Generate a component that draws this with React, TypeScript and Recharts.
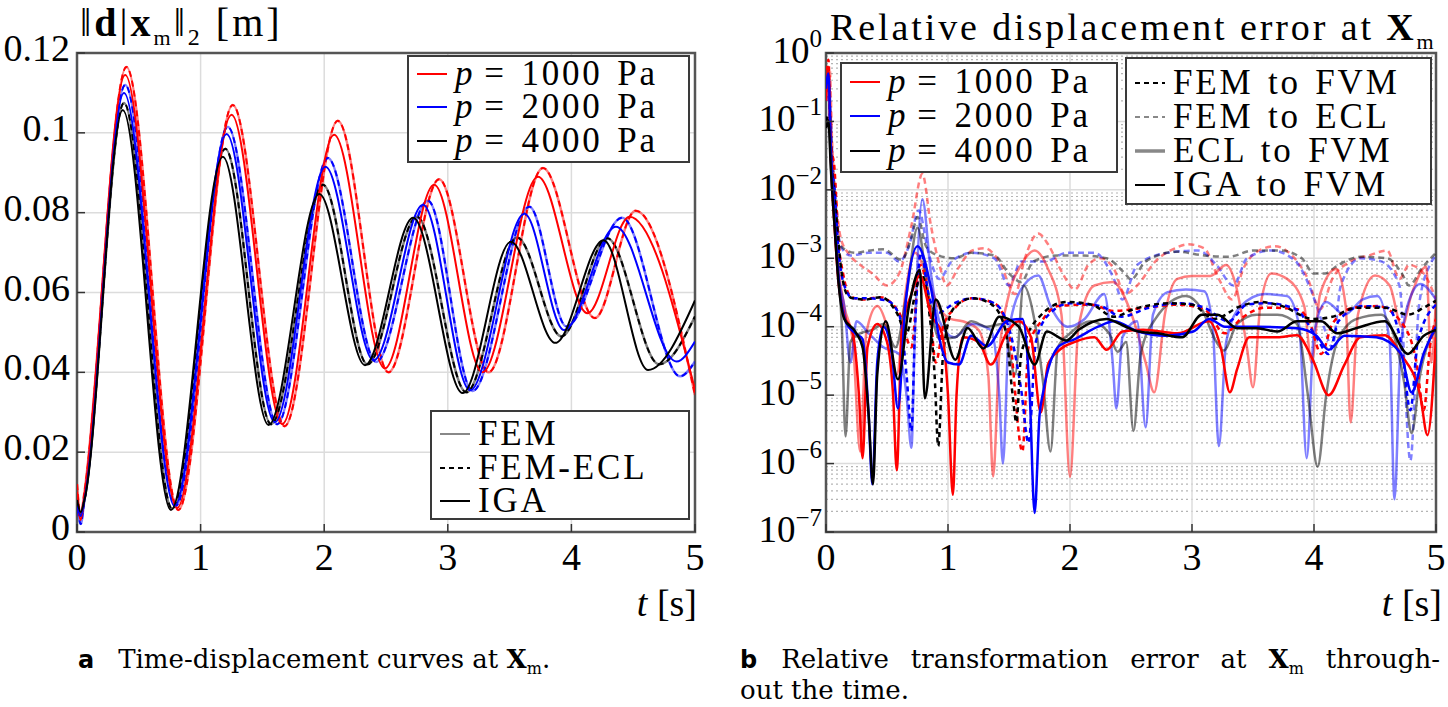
import React from 'react';
import { LineChart, Line, XAxis, YAxis, CartesianGrid, ReferenceArea } from 'recharts';

const serif = '"Liberation Serif", "DejaVu Serif", serif';
const capSerif = '"DejaVu Serif", serif';

const timeTicks = [0, 1, 2, 3, 4, 5];
const dispTicks = [0, 0.02, 0.04, 0.06, 0.08, 0.1, 0.12];
const errTicks = [1e-7, 1e-6, 1e-5, 1e-4, 1e-3, 1e-2, 1e-1, 1];
const minorDecades = [1e-7, 1e-6, 1e-5, 1e-4, 1e-3, 1e-2, 1e-1];
const minorSteps = [2, 3, 4, 5, 6, 7, 8, 9];
const pressures = [1000, 2000, 4000];

// ||d|| at X_m [m] over t [s]  (FEM and FEM-ECL coincide)
const dispFem1000 = [[0, 0.012], [0.03, 0.004], [0.06, 0.01], [0.4, 0.1165], [0.82, 0.0055], [1.26, 0.107], [1.68, 0.0265], [2.11, 0.103], [2.52, 0.04], [2.93, 0.0884], [3.33, 0.04], [3.77, 0.0912], [4.19, 0.0536], [4.52, 0.0805], [5.0, 0.0343]];
const dispIga1000 = [[0, 0.01], [0.03, 0.003], [0.06, 0.009], [0.39, 0.1145], [0.81, 0.006], [1.25, 0.1045], [1.66, 0.027], [2.08, 0.0995], [2.49, 0.041], [2.89, 0.087], [3.28, 0.04], [3.73, 0.089], [4.13, 0.0548], [4.47, 0.079], [5.0, 0.0356]];
const dispFem2000 = [[0, 0.008], [0.03, 0.002], [0.06, 0.008], [0.39, 0.112], [0.8, 0.0065], [1.22, 0.1015], [1.62, 0.027], [2.03, 0.0937], [2.42, 0.0426], [2.84, 0.083], [3.2, 0.0353], [3.66, 0.0815], [3.96, 0.0515], [4.41, 0.0787], [4.88, 0.039], [5.0, 0.0427]];
const dispIga2000 = [[0, 0.007], [0.03, 0.004], [0.06, 0.008], [0.38, 0.11], [0.79, 0.0065], [1.21, 0.0997], [1.6, 0.0275], [2.01, 0.0915], [2.4, 0.043], [2.8, 0.082], [3.18, 0.0355], [3.62, 0.0797], [3.94, 0.0506], [4.36, 0.0765], [4.85, 0.0427], [5.0, 0.0477]];
const dispFem4000 = [[0, 0.009], [0.03, 0.004], [0.06, 0.008], [0.38, 0.1075], [0.77, 0.0058], [1.2, 0.096], [1.57, 0.027], [1.99, 0.087], [2.35, 0.042], [2.75, 0.079], [3.15, 0.035], [3.56, 0.0738], [3.92, 0.049], [4.29, 0.0736], [4.71, 0.042], [5.0, 0.054]];
const dispIga4000 = [[0, 0.008], [0.03, 0.005], [0.06, 0.008], [0.37, 0.1057], [0.76, 0.0055], [1.18, 0.094], [1.55, 0.0268], [1.96, 0.0847], [2.33, 0.0418], [2.72, 0.0787], [3.12, 0.0348], [3.51, 0.0727], [3.87, 0.0474], [4.26, 0.0731], [4.62, 0.0406], [5.0, 0.058]];

// relative displacement error at X_m over t [s]
const femFvm1000 = [[0, 0.3], [0.02, 0.8], [0.04, 0.05], [0.07, 0.02], [0.1, 2e-3], [0.14, 6e-4], [0.2, 2.8e-4], [0.3, 2.5e-4], [0.44, 2.7e-4], [0.6, 1.6e-4], [0.7, 5e-5], [0.77, 8e-4], [0.85, 2e-4], [0.9, 3e-5], [0.96, 1e-4], [1.06, 1.9e-4], [1.19, 2.6e-4], [1.38, 2.2e-4], [1.5, 8e-5], [1.61, 1.5e-6], [1.66, 5e-5], [1.78, 1.3e-4], [1.9, 2e-4], [2.17, 2.1e-4], [2.36, 1.7e-4], [2.62, 1.9e-4], [2.88, 2.1e-4], [3.1, 1.8e-4], [3.27, 8e-5], [3.4, 1.3e-4], [3.6, 1.9e-4], [3.86, 1.8e-4], [3.96, 1.2e-4], [4.06, 4e-5], [4.15, 1.1e-4], [4.33, 1.9e-4], [4.52, 2e-4], [4.71, 1.2e-4], [4.84, 3e-5], [4.9, 6e-6], [4.95, 5e-5], [5.0, 1.3e-4]];
const femFvm2000 = [[0, 0.2], [0.02, 0.4], [0.04, 0.03], [0.07, 0.01], [0.1, 1.5e-3], [0.15, 4e-4], [0.22, 2.6e-4], [0.35, 2.6e-4], [0.5, 2.4e-4], [0.6, 1.5e-4], [0.66, 2e-5], [0.7, 3e-6], [0.73, 1e-4], [0.78, 1.2e-3], [0.84, 3e-4], [0.92, 1.6e-4], [1.05, 2.2e-4], [1.2, 2.6e-4], [1.38, 2.2e-4], [1.52, 7e-5], [1.6, 1.2e-5], [1.66, 2e-6], [1.72, 6e-5], [1.84, 1.6e-4], [2.0, 2.2e-4], [2.25, 2e-4], [2.42, 1.4e-4], [2.65, 1.9e-4], [2.9, 2.2e-4], [3.1, 1.9e-4], [3.3, 1.2e-4], [3.45, 2.1e-4], [3.62, 2.2e-4], [3.85, 1.8e-4], [4.02, 7e-5], [4.12, 4e-5], [4.2, 1.2e-4], [4.4, 2e-4], [4.6, 1.9e-4], [4.72, 5e-5], [4.79, 6e-6], [4.85, 6e-5], [5.0, 2.1e-4]];
const femFvm4000 = [[0, 0.1], [0.02, 0.12], [0.05, 0.02], [0.08, 5e-3], [0.12, 8e-4], [0.17, 3e-4], [0.22, 2.6e-4], [0.32, 2.5e-4], [0.45, 2.7e-4], [0.58, 1.6e-4], [0.66, 8e-5], [0.73, 3e-4], [0.78, 6e-4], [0.84, 2e-4], [0.89, 2e-5], [0.92, 1.8e-6], [0.96, 4e-5], [1.05, 1.9e-4], [1.2, 2.6e-4], [1.36, 2.1e-4], [1.47, 9e-5], [1.53, 1e-5], [1.56, 4e-6], [1.6, 4e-5], [1.75, 1.4e-4], [1.97, 2.3e-4], [2.18, 2.1e-4], [2.36, 1.4e-4], [2.52, 1.8e-4], [2.82, 2.2e-4], [3.0, 2.1e-4], [3.18, 1.3e-4], [3.4, 2e-4], [3.55, 2.3e-4], [3.74, 2e-4], [3.99, 1.3e-4], [4.15, 1.4e-4], [4.35, 1.9e-4], [4.58, 1.9e-4], [4.77, 1.5e-4], [4.9, 1.9e-4], [5.0, 2.4e-4]];

const femEcl1000 = [[0, 0.5], [0.03, 0.6], [0.05, 0.05], [0.08, 8e-3], [0.12, 2e-3], [0.18, 1.2e-3], [0.28, 8e-4], [0.38, 6e-4], [0.5, 4e-4], [0.6, 6e-4], [0.7, 3e-3], [0.79, 1.7e-2], [0.86, 3e-3], [0.93, 8e-4], [0.99, 4e-4], [1.08, 7e-4], [1.2, 1.3e-3], [1.3, 1.4e-3], [1.42, 9e-4], [1.55, 3e-4], [1.63, 1e-3], [1.74, 2.3e-3], [1.82, 1.6e-3], [1.94, 6e-4], [2.04, 3.5e-4], [2.15, 8e-4], [2.25, 1e-3], [2.36, 7e-4], [2.45, 3e-4], [2.55, 4e-4], [2.7, 9e-4], [2.86, 1.4e-3], [2.97, 1.6e-3], [3.1, 1.4e-3], [3.22, 5e-4], [3.33, 2.5e-4], [3.42, 7e-4], [3.55, 1.3e-3], [3.68, 1.5e-3], [3.82, 1.1e-3], [3.95, 5e-4], [4.05, 1.8e-4], [4.15, 5e-4], [4.3, 9e-4], [4.45, 1.1e-3], [4.6, 1.3e-3], [4.7, 5e-4], [4.78, 8e-4], [4.9, 6e-4], [5.0, 2.5e-4]];
const femEcl2000 = [[0, 0.4], [0.02, 0.5], [0.05, 0.04], [0.08, 6e-3], [0.12, 1.5e-3], [0.2, 1.1e-3], [0.35, 1.2e-3], [0.5, 1.2e-3], [0.6, 9e-4], [0.68, 1.5e-3], [0.76, 5e-3], [0.84, 1.2e-3], [0.93, 5e-4], [1.03, 9e-4], [1.2, 1.2e-3], [1.38, 1e-3], [1.5, 4e-4], [1.6, 9e-4], [1.8, 9e-4], [1.97, 1.2e-3], [2.2, 1.2e-3], [2.36, 5e-4], [2.43, 2.5e-4], [2.55, 8e-4], [2.8, 1.2e-3], [3.05, 1.3e-3], [3.2, 8e-4], [3.34, 4e-4], [3.45, 1e-3], [3.65, 1.3e-3], [3.85, 9e-4], [3.96, 4e-4], [4.08, 1e-4], [4.15, 5e-5], [4.22, 4e-4], [4.38, 1e-3], [4.55, 9e-4], [4.7, 4e-4], [4.79, 1.1e-6], [4.86, 2e-4], [4.95, 8e-4], [5.0, 1.1e-3]];
const femEcl4000 = [[0, 0.3], [0.02, 0.3], [0.05, 0.03], [0.08, 5e-3], [0.12, 1.5e-3], [0.24, 1.2e-3], [0.36, 1.3e-3], [0.47, 1.35e-3], [0.62, 9.5e-4], [0.7, 2e-3], [0.75, 4e-3], [0.82, 1.5e-3], [0.92, 1.1e-3], [1.05, 1e-3], [1.19, 1.2e-3], [1.38, 1.1e-3], [1.5, 6e-4], [1.6, 4.5e-4], [1.7, 9e-4], [1.9, 1.1e-3], [2.1, 1.1e-3], [2.3, 1e-3], [2.45, 6e-4], [2.5, 4.9e-4], [2.62, 9e-4], [2.88, 1.25e-3], [3.1, 1.1e-3], [3.3, 1.05e-3], [3.5, 1.3e-3], [3.72, 1.3e-3], [3.9, 1e-3], [4.0, 6e-4], [4.09, 6e-4], [4.2, 8e-4], [4.38, 1.05e-3], [4.6, 1e-3], [4.72, 6e-4], [4.78, 4e-4], [4.88, 7e-4], [5.0, 1.2e-3]];

const eclFvm1000 = [[0, 0.3], [0.02, 0.5], [0.04, 0.05], [0.07, 5e-3], [0.1, 8e-4], [0.15, 2e-4], [0.22, 6e-5], [0.28, 1.5e-6], [0.33, 8e-5], [0.42, 2e-4], [0.5, 1e-4], [0.58, 2e-5], [0.65, 3e-4], [0.73, 1.2e-3], [0.82, 6e-4], [0.92, 2e-4], [1.02, 1.3e-4], [1.12, 1.2e-4], [1.25, 9e-5], [1.33, 2e-5], [1.37, 6.5e-7], [1.42, 4e-5], [1.5, 3e-4], [1.6, 8e-4], [1.71, 1.3e-3], [1.82, 7e-4], [1.93, 1.5e-4], [2.0, 6.4e-7], [2.07, 1e-4], [2.2, 4e-4], [2.35, 4.5e-4], [2.5, 1.6e-4], [2.62, 3e-5], [2.69, 1.1e-5], [2.78, 1.6e-4], [2.88, 5e-4], [3.0, 5.5e-4], [3.15, 5.5e-4], [3.28, 8e-4], [3.36, 4e-4], [3.45, 5e-5], [3.5, 1.3e-5], [3.56, 2e-4], [3.65, 6e-4], [3.78, 5e-4], [3.92, 2e-4], [3.98, 3e-5], [4.05, 3e-4], [4.18, 7e-4], [4.26, 2e-4], [4.3, 4e-6], [4.36, 1.5e-4], [4.5, 5.6e-4], [4.62, 4e-4], [4.72, 1e-4], [4.8, 3e-4], [4.92, 7.5e-4], [4.96, 3e-5], [5.0, 2.5e-4]];
const eclFvm2000 = [[0, 0.2], [0.02, 0.3], [0.04, 0.03], [0.07, 4e-3], [0.1, 6e-4], [0.15, 2e-4], [0.2, 3e-5], [0.25, 1.2e-4], [0.35, 8e-5], [0.47, 5e-5], [0.6, 4e-5], [0.66, 1e-5], [0.7, 1.7e-6], [0.73, 1e-4], [0.79, 7.3e-3], [0.86, 6e-4], [0.93, 1.2e-4], [1.05, 7e-5], [1.2, 1.1e-4], [1.35, 9e-5], [1.42, 1e-5], [1.45, 1e-6], [1.5, 9e-5], [1.62, 4e-4], [1.74, 5.6e-4], [1.84, 2e-4], [1.98, 1e-4], [2.12, 1.3e-4], [2.28, 3e-4], [2.35, 3e-5], [2.38, 6.4e-6], [2.43, 7e-5], [2.55, 1.2e-4], [2.62, 3.4e-6], [2.68, 1.5e-4], [2.8, 3.2e-4], [2.95, 3.5e-4], [3.1, 3.3e-4], [3.17, 1e-4], [3.22, 1.8e-6], [3.28, 6e-5], [3.4, 2e-4], [3.6, 3e-4], [3.78, 2.8e-4], [3.88, 1e-4], [3.94, 1.2e-6], [4.0, 8e-5], [4.1, 2.3e-4], [4.25, 1.5e-4], [4.4, 2.5e-4], [4.52, 2.8e-4], [4.62, 6e-5], [4.66, 3e-7], [4.71, 5e-5], [4.8, 3e-4], [4.87, 4.2e-4], [5.0, 2.5e-4]];
const eclFvm4000 = [[0, 0.1], [0.02, 0.1], [0.05, 0.01], [0.09, 1e-3], [0.13, 1e-4], [0.16, 2.5e-6], [0.2, 6e-5], [0.28, 8e-5], [0.38, 9e-5], [0.47, 1.1e-4], [0.57, 5e-5], [0.66, 3e-4], [0.75, 2.8e-3], [0.84, 3e-4], [0.93, 6.6e-5], [1.06, 7e-5], [1.19, 1.2e-4], [1.32, 1e-4], [1.45, 1.1e-4], [1.55, 2e-5], [1.62, 4e-4], [1.7, 1.5e-4], [1.78, 1.5e-5], [1.84, 1.5e-6], [1.9, 5e-5], [2.0, 8e-5], [2.17, 1.2e-4], [2.32, 8e-5], [2.39, 4.3e-5], [2.46, 6e-5], [2.52, 3e-6], [2.58, 4e-5], [2.7, 1.3e-4], [2.95, 2.8e-4], [3.08, 1.8e-4], [3.2, 6e-5], [3.26, 4.5e-5], [3.37, 1.1e-4], [3.53, 1.5e-4], [3.7, 1.5e-4], [3.86, 1.1e-4], [3.95, 1e-5], [4.03, 9e-7], [4.1, 1e-5], [4.19, 6e-5], [4.35, 1.3e-4], [4.55, 1.5e-4], [4.65, 8e-5], [4.74, 1.5e-5], [4.8, 2.8e-6], [4.87, 2e-5], [4.94, 6e-5], [5.0, 9e-5]];

const igaFvm1000 = [[0, 0.2], [0.02, 0.6], [0.04, 0.03], [0.07, 3e-3], [0.1, 5e-4], [0.15, 1.5e-4], [0.22, 8e-5], [0.27, 1e-5], [0.3, 1.2e-6], [0.34, 5e-5], [0.42, 1.1e-4], [0.5, 6e-5], [0.55, 1e-5], [0.58, 8e-7], [0.62, 8e-5], [0.7, 3e-4], [0.77, 5.6e-4], [0.86, 1.5e-4], [0.95, 8e-5], [1.0, 1e-5], [1.04, 3.5e-7], [1.07, 1e-5], [1.12, 7e-5], [1.25, 6e-5], [1.35, 2.8e-5], [1.48, 8e-5], [1.58, 1.2e-4], [1.68, 7e-5], [1.76, 5.6e-6], [1.82, 2.8e-5], [1.91, 4.5e-5], [2.04, 6e-5], [2.2, 7e-5], [2.3, 4.6e-5], [2.43, 8.5e-5], [2.6, 9e-5], [2.88, 8e-5], [3.14, 1.2e-4], [3.24, 4.6e-5], [3.31, 1.1e-5], [3.37, 2.4e-5], [3.47, 7e-5], [3.7, 7e-5], [3.86, 7.5e-5], [3.99, 3.3e-5], [4.12, 1e-5], [4.25, 2.8e-5], [4.38, 7e-5], [4.58, 7.5e-5], [4.71, 4e-5], [4.87, 1e-5], [4.93, 2.6e-6], [5.0, 7e-5]];
const igaFvm2000 = [[0, 0.3], [0.02, 0.5], [0.04, 0.04], [0.07, 4e-3], [0.1, 6e-4], [0.16, 1.2e-4], [0.24, 8e-5], [0.3, 6.6e-5], [0.35, 5e-6], [0.38, 5e-7], [0.42, 3e-5], [0.47, 1e-4], [0.54, 4e-5], [0.59, 6.4e-6], [0.65, 2e-4], [0.75, 1.5e-3], [0.86, 3.7e-4], [0.93, 6.6e-5], [1.0, 3e-5], [1.09, 2.8e-5], [1.19, 7.4e-5], [1.32, 5.2e-5], [1.48, 1.2e-4], [1.61, 1.3e-4], [1.67, 1e-5], [1.71, 1.9e-7], [1.75, 5e-6], [1.78, 1.1e-5], [1.91, 5.2e-5], [2.04, 6.6e-5], [2.23, 1e-4], [2.36, 1.2e-4], [2.56, 8.5e-5], [2.78, 7.4e-5], [3.01, 8.5e-5], [3.14, 1.3e-4], [3.27, 1e-4], [3.53, 1e-4], [3.86, 9.5e-5], [4.02, 7.4e-5], [4.12, 4.6e-5], [4.25, 7.4e-5], [4.51, 7e-5], [4.71, 4.1e-5], [4.8, 1.1e-5], [4.9, 4.1e-5], [5.0, 1e-4]];
const igaFvm4000 = [[0, 0.08], [0.02, 0.1], [0.04, 0.02], [0.07, 3e-3], [0.1, 5e-4], [0.15, 1.3e-4], [0.24, 8.5e-5], [0.3, 5e-5], [0.35, 5e-6], [0.385, 5e-7], [0.42, 2e-5], [0.49, 1.2e-4], [0.59, 1.7e-5], [0.68, 2e-4], [0.77, 6.8e-4], [0.81, 9e-6], [0.9, 2.5e-4], [1.06, 3.3e-5], [1.16, 9.6e-5], [1.29, 4.8e-5], [1.42, 1.4e-4], [1.58, 1e-4], [1.71, 2.8e-5], [1.81, 8.5e-5], [1.97, 6.3e-5], [2.07, 9e-5], [2.3, 1.3e-4], [2.43, 1.05e-4], [2.56, 8.5e-5], [2.72, 8e-5], [2.92, 7e-5], [3.08, 1.5e-4], [3.21, 1.5e-4], [3.37, 9.5e-5], [3.53, 9.5e-5], [3.7, 8.5e-5], [3.86, 1.2e-4], [4.06, 1.2e-4], [4.19, 8e-5], [4.35, 9.6e-5], [4.58, 1.2e-4], [4.77, 4e-5], [4.9, 7.4e-5], [5.0, 9e-5]];

const pts = (a: number[][]) => a.map(([t, v]) => ({ t, v }));

const RED = '#ff0000';
const BLUE = '#0000ff';
const BLACK = '#000000';
const colors = [RED, BLUE, BLACK];

const dispFem = [dispFem1000, dispFem2000, dispFem4000];
const dispIga = [dispIga1000, dispIga2000, dispIga4000];
const errFemEcl = [femEcl1000, femEcl2000, femEcl4000];
const errEclFvm = [eclFvm1000, eclFvm2000, eclFvm4000];
const errFemFvm = [femFvm1000, femFvm2000, femFvm4000];
const errIgaFvm = [igaFvm1000, igaFvm2000, igaFvm4000];

const tickLine = { stroke: '#333', strokeWidth: 1.5 };

const XTick = (props: any) => (
  <text x={props.x} y={props.y} dy={26} textAnchor="middle" fill="#000" style={{ fontFamily: serif, fontSize: 38 }}>
    {props.payload.value}
  </text>
);

const YTick = (props: any) => (
  <text x={props.x} y={props.y} dy={8} textAnchor="end" fill="#000" style={{ fontFamily: serif, fontSize: 38 }}>
    {String(props.payload.value)}
  </text>
);

const LogTick = (props: any) => {
  const { x, y, payload } = props;
  const e = Math.round(Math.log10(payload.value));
  return (
    <text x={x} y={y} textAnchor="end" fill="#000" style={{ fontFamily: serif }}>
      <tspan style={{ fontSize: 37 }} dy={10}>10</tspan>
      <tspan style={{ fontSize: 25 }} dy={-16}>{e === 0 ? '0' : '\u2212' + String(-e)}</tspan>
    </text>
  );
};

function DisplacementChart() {
  return (
    <LineChart width={720} height={620} margin={{ top: 53, right: 25, bottom: 0, left: 0 }}>
      <CartesianGrid stroke="#dcdcdc" strokeWidth={1.5} />
      <XAxis dataKey="t" type="number" domain={[0, 5]} ticks={timeTicks} interval={0} height={88}
        axisLine={false} tickSize={-8} tickMargin={20} tickLine={tickLine} tick={<XTick />} allowDataOverflow />
      <YAxis type="number" domain={[0, 0.12]} ticks={dispTicks} interval={0} width={77}
        axisLine={false} tickSize={-8} tickMargin={15} tickLine={tickLine} tick={<YTick />} allowDataOverflow />
      {colors.map((c, i) => (
        <Line key={'fem' + i} data={pts(dispFem[i])} dataKey="v" type="monotone" stroke={c} strokeOpacity={0.5}
          strokeWidth={2.5} dot={false} isAnimationActive={false} />
      ))}
      {colors.map((c, i) => (
        <Line key={'ecl' + i} data={pts(dispFem[i])} dataKey="v" type="monotone" stroke={c} strokeDasharray="6 4"
          strokeWidth={2} dot={false} isAnimationActive={false} />
      ))}
      {colors.map((c, i) => (
        <Line key={'iga' + i} data={pts(dispIga[i])} dataKey="v" type="monotone" stroke={c}
          strokeWidth={2} dot={false} isAnimationActive={false} />
      ))}
      <ReferenceArea x1={0} x2={5} y1={0} y2={0.12} fill="none" stroke="#555" strokeWidth={2.5} />
    </LineChart>
  );
}

function ErrorChart() {
  const minor = minorDecades.flatMap((d) => minorSteps.map((m) => m * d));
  return (
    <LineChart width={728} height={620} margin={{ top: 53, right: 12, bottom: 0, left: 0 }}>
      <CartesianGrid horizontalValues={minor} vertical={false} stroke="#b5b5b5" strokeDasharray="2 3" strokeWidth={1.2} />
      <CartesianGrid stroke="#dcdcdc" strokeWidth={1.5} />
      <XAxis dataKey="t" type="number" domain={[0, 5]} ticks={timeTicks} interval={0} height={88}
        axisLine={false} tickSize={-8} tickMargin={20} tickLine={tickLine} tick={<XTick />} allowDataOverflow />
      <YAxis type="number" scale="log" domain={[1e-7, 1]} ticks={errTicks} interval={0} width={106}
        axisLine={false} tickSize={-8} tickMargin={12} tickLine={tickLine} tick={<LogTick />} allowDataOverflow />
      {colors.map((c, i) => (
        <Line key={'fe' + i} data={pts(errFemEcl[i])} dataKey="v" type="monotone" stroke={c} strokeOpacity={0.5}
          strokeDasharray="6 4" strokeWidth={2.5} dot={false} isAnimationActive={false} />
      ))}
      {colors.map((c, i) => (
        <Line key={'ef' + i} data={pts(errEclFvm[i])} dataKey="v" type="monotone" stroke={c} strokeOpacity={0.5}
          strokeWidth={2.5} dot={false} isAnimationActive={false} />
      ))}
      {colors.map((c, i) => (
        <Line key={'ff' + i} data={pts(errFemFvm[i])} dataKey="v" type="monotone" stroke={c}
          strokeDasharray="5 4" strokeWidth={2.5} dot={false} isAnimationActive={false} />
      ))}
      {colors.map((c, i) => (
        <Line key={'if' + i} data={pts(errIgaFvm[i])} dataKey="v" type="monotone" stroke={c}
          strokeWidth={2.5} dot={false} isAnimationActive={false} />
      ))}
      <ReferenceArea x1={0} x2={5} y1={1e-7} y2={1} fill="none" stroke="#555" strokeWidth={2.5} />
    </LineChart>
  );
}

type Row = { y: number; stroke: string; dash?: string; width?: number; label: React.ReactNode };

function LegendBox({ left, top, width, height, rows }: { left: number; top: number; width: number; height: number; rows: Row[] }) {
  return (
    <div style={{ position: 'absolute', left, top, width, height, border: '2px solid #3a3a3a', background: '#fff', boxSizing: 'border-box' }}>
      {rows.map((r, i) => (
        <div key={i} style={{ position: 'absolute', left: 8, top: r.y - 15, height: 30, display: 'flex', alignItems: 'center', whiteSpace: 'nowrap' }}>
          <svg width={30} height={10} style={{ flex: 'none' }}>
            <line x1={0} y1={5} x2={30} y2={5} stroke={r.stroke} strokeWidth={r.width ?? 2} strokeDasharray={r.dash} />
          </svg>
          <span style={{ marginLeft: 8, fontFamily: serif, fontSize: 35, lineHeight: '30px', letterSpacing: 2.8, wordSpacing: 3 }}>{r.label}</span>
        </div>
      ))}
    </div>
  );
}

const pLabel = (p: number) => (<><i style={{ marginRight: 9 }}>p</i>{'= ' + p + ' Pa'}</>);
const bLabel = { fontFamily: '"DejaVu Sans", sans-serif', fontWeight: 700, fontSize: 24, marginRight: 24 };

export default function App() {
  const pressureRows = (ys: number[]): Row[] => pressures.map((p, i) => ({ y: ys[i], stroke: colors[i], label: pLabel(p) }));
  return (
    <div style={{ position: 'absolute', left: 0, top: 0, width: 1448, height: 707, background: '#fff', overflow: 'hidden', fontFamily: serif }}>
      <div style={{ position: 'absolute', left: 0, top: 0 }}><DisplacementChart /></div>
      <div style={{ position: 'absolute', left: 720, top: 0 }}><ErrorChart /></div>

      <div style={{ position: 'absolute', left: 80, top: 0, fontSize: 40, lineHeight: '46px', whiteSpace: 'nowrap', letterSpacing: 3 }}>
        {'\u2016'}<b>d</b>|<b>x</b><sub style={{ fontSize: 22 }}>m</sub>{'\u2016'}<sub style={{ fontSize: 24 }}>2</sub>{' [m]'}
      </div>
      <div style={{ position: 'absolute', left: 830, top: 4, fontSize: 38, lineHeight: '46px', whiteSpace: 'nowrap', letterSpacing: 2.9 }}>
        Relative displacement error at <b>X</b><sub style={{ fontSize: 22 }}>m</sub>
      </div>

      <div style={{ position: 'absolute', right: 1448 - 697, top: 580, fontSize: 38, lineHeight: '46px', whiteSpace: 'nowrap' }}><i>t</i> [s]</div>
      <div style={{ position: 'absolute', right: 1448 - 1442, top: 580, fontSize: 38, lineHeight: '46px', whiteSpace: 'nowrap' }}><i>t</i> [s]</div>

      <LegendBox left={407} top={55} width={283} height={108} rows={pressureRows([17, 50, 84])} />
      <LegendBox left={430} top={410} width={260} height={110} rows={[
        { y: 22, stroke: '#888', label: 'FEM' },
        { y: 56, stroke: '#000', dash: '5 4', label: 'FEM-ECL' },
        { y: 89, stroke: '#000', label: 'IGA' },
      ]} />
      <LegendBox left={840} top={62} width={278} height={111} rows={pressureRows([18, 52, 87])} />
      <LegendBox left={1125} top={57} width={307} height={148} rows={[
        { y: 24, stroke: '#000', dash: '5 4', label: 'FEM to FVM' },
        { y: 58, stroke: '#888', dash: '5 4', label: 'FEM to ECL' },
        { y: 92, stroke: '#888', width: 3.5, label: 'ECL to FVM' },
        { y: 126, stroke: '#000', label: 'IGA to FVM' },
      ]} />

      <div style={{ position: 'absolute', left: 78, top: 644, fontFamily: capSerif, fontSize: 26, lineHeight: '30px', whiteSpace: 'nowrap' }}>
        <span style={bLabel}>a</span>
        Time-displacement curves at <b>X</b><sub style={{ fontSize: 16 }}>m</sub>.
      </div>
      <div style={{ position: 'absolute', left: 740, top: 644, width: 700, fontFamily: capSerif, fontSize: 26, lineHeight: '30px', textAlign: 'justify', textAlignLast: 'justify' }}>
        <span style={bLabel}>b</span>
        Relative transformation error at <b>X</b><sub style={{ fontSize: 16 }}>m</sub> through-
      </div>
      <div style={{ position: 'absolute', left: 740, top: 675, fontFamily: capSerif, fontSize: 26, lineHeight: '30px', whiteSpace: 'nowrap' }}>out the time.</div>
    </div>
  );
}
